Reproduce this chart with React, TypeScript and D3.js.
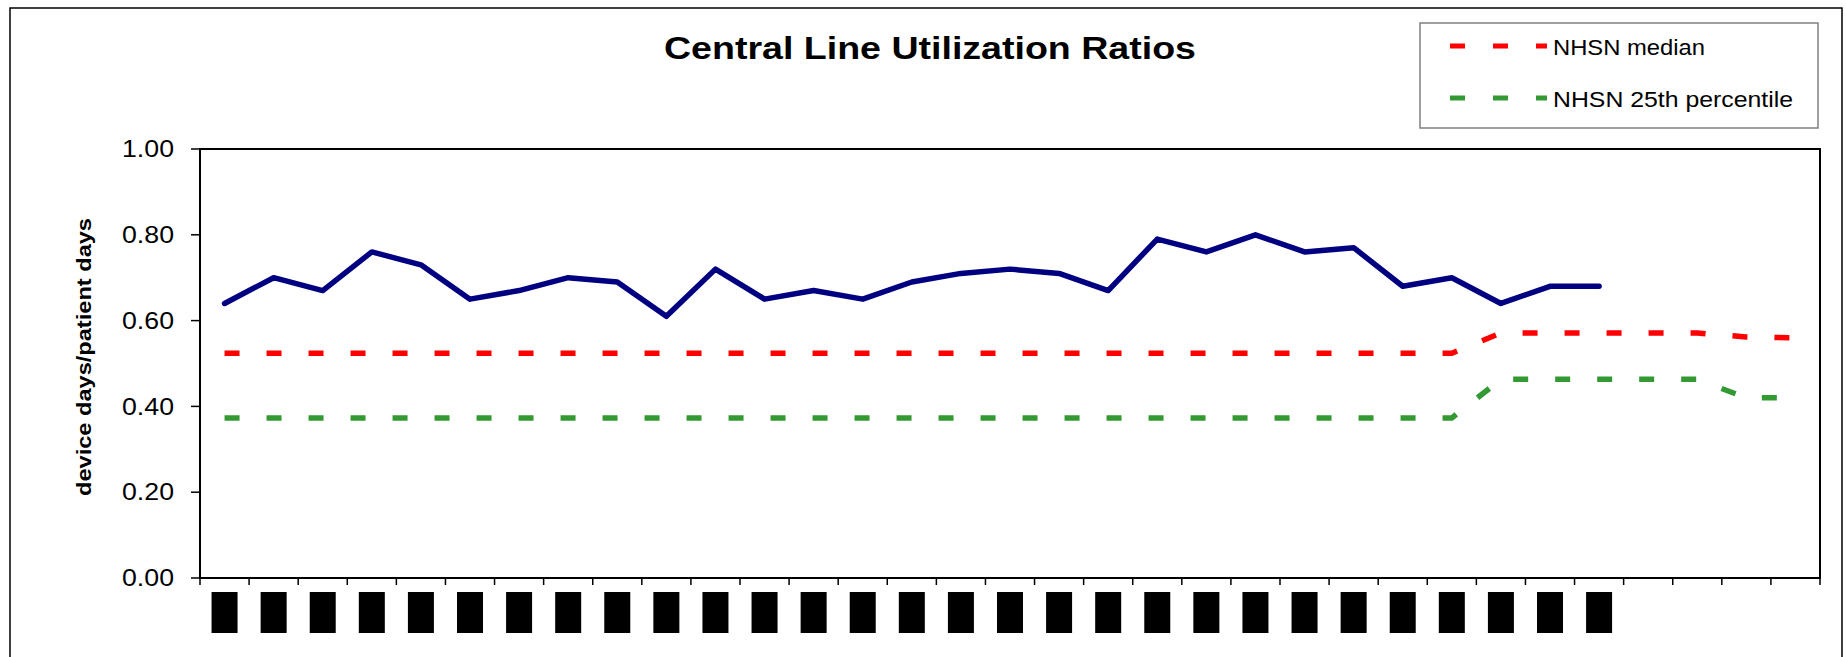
import * as d3 from 'd3';

// periods on the x axis (labels are blacked out in the source chart)
const periods = [
  'P01', 'P02', 'P03', 'P04', 'P05', 'P06', 'P07', 'P08', 'P09', 'P10', 'P11',
  'P12', 'P13', 'P14', 'P15', 'P16', 'P17', 'P18', 'P19', 'P20', 'P21', 'P22',
  'P23', 'P24', 'P25', 'P26', 'P27', 'P28', 'P29', 'P30', 'P31', 'P32', 'P33',
];

// device days / patient days, one value per reported period
const utilization = [
  0.64, 0.70, 0.67, 0.76, 0.73, 0.65, 0.67, 0.70, 0.69, 0.61, 0.72, 0.65, 0.67,
  0.65, 0.69, 0.71, 0.72, 0.71, 0.67, 0.79, 0.76, 0.80, 0.76, 0.77, 0.68, 0.70,
  0.64, 0.68, 0.68,
];

const nhsnMedian = [
  0.524, 0.524, 0.524, 0.524, 0.524, 0.524, 0.524, 0.524, 0.524, 0.524, 0.524,
  0.524, 0.524, 0.524, 0.524, 0.524, 0.524, 0.524, 0.524, 0.524, 0.524, 0.524,
  0.524, 0.524, 0.524, 0.524, 0.571, 0.571, 0.571, 0.571, 0.571, 0.562, 0.56,
];

const nhsn25th = [
  0.373, 0.373, 0.373, 0.373, 0.373, 0.373, 0.373, 0.373, 0.373, 0.373, 0.373,
  0.373, 0.373, 0.373, 0.373, 0.373, 0.373, 0.373, 0.373, 0.373, 0.373, 0.373,
  0.373, 0.373, 0.373, 0.373, 0.463, 0.463, 0.463, 0.463, 0.463, 0.42, 0.42,
];

const yTicks = [0, 0.2, 0.4, 0.6, 0.8, 1.0];

const legendItems = [
  { label: 'NHSN median', color: '#ff0000' },
  { label: 'NHSN 25th percentile', color: '#339933' },
];

const W = 1846;
const H = 657;
const FONT = 'Liberation Sans, Arial, sans-serif';

const App = () => {
  const plot = { left: 200, right: 1820, top: 149, bottom: 578 };

  const x = d3
    .scaleBand<string>()
    .domain(periods)
    .range([plot.left, plot.right])
    .padding(0);
  const y = d3.scaleLinear().domain([0, 1]).range([plot.bottom, plot.top]);
  const cx = (i: number) => (x(periods[i]) ?? 0) + x.bandwidth() / 2;

  const line = d3
    .line<number>()
    .x((_, i) => cx(i))
    .y((d) => y(d));

  const boundaries = d3.range(periods.length + 1).map((i) => plot.left + i * x.bandwidth());

  return (
    <svg
      width={W}
      height={H}
      style={{ position: 'absolute', left: 0, top: 0, background: '#fff' }}
    >
      {/* chart border */}
      <rect x={10} y={8} width={1832} height={680} fill="#fff" stroke="#000" strokeWidth={1.5} />

      {/* title */}
      <text
        x={930}
        y={59}
        textAnchor="middle"
        fontFamily={FONT}
        fontWeight="bold"
        fontSize={32}
        textLength={532}
        lengthAdjust="spacingAndGlyphs"
      >
        Central Line Utilization Ratios
      </text>

      {/* legend */}
      <rect x={1420} y={23} width={398} height={105} fill="#fff" stroke="#808080" strokeWidth={1.5} />
      {legendItems.map((d, i) => {
        const ly = 46 + i * 52;
        return (
          <g key={d.label}>
            <line
              x1={1450}
              x2={1547}
              y1={ly}
              y2={ly}
              stroke={d.color}
              strokeWidth={5}
              strokeDasharray="15 28"
            />
            <text
              x={1553}
              y={ly + 8.5}
              fontFamily={FONT}
              fontSize={22}
              textLength={i === 0 ? 152 : 240}
              lengthAdjust="spacingAndGlyphs"
            >
              {d.label}
            </text>
          </g>
        );
      })}

      {/* y axis label */}
      <text
        transform={`translate(84,357) rotate(-90)`}
        textAnchor="middle"
        dy="0.35em"
        fontFamily={FONT}
        fontWeight="bold"
        fontSize={21}
        textLength={278}
        lengthAdjust="spacingAndGlyphs"
      >
        device days/patient days
      </text>

      {/* plot frame */}
      <rect
        x={plot.left}
        y={plot.top}
        width={plot.right - plot.left}
        height={plot.bottom - plot.top}
        fill="none"
        stroke="#000"
        strokeWidth={2}
      />

      {/* y ticks */}
      {yTicks.map((t) => (
        <g key={t}>
          <line x1={plot.left - 9} x2={plot.left} y1={y(t)} y2={y(t)} stroke="#000" strokeWidth={1.5} />
          <text
            x={174}
            y={y(t)}
            dy="0.36em"
            textAnchor="end"
            fontFamily={FONT}
            fontSize={23}
            textLength={52}
            lengthAdjust="spacingAndGlyphs"
          >
            {d3.format('.2f')(t)}
          </text>
        </g>
      ))}

      {/* x ticks */}
      {boundaries.map((bx, i) => (
        <line key={i} x1={bx} x2={bx} y1={plot.bottom} y2={plot.bottom + 7} stroke="#000" strokeWidth={1.5} />
      ))}

      {/* redacted category labels */}
      {utilization.map((_, i) => (
        <rect key={periods[i]} x={cx(i) - 13} y={592} width={26} height={41} fill="#000" />
      ))}

      {/* reference lines */}
      <path
        d={line(nhsnMedian) ?? ''}
        fill="none"
        stroke="#ff0000"
        strokeWidth={5.5}
        strokeDasharray="15 27"
      />
      <path
        d={line(nhsn25th) ?? ''}
        fill="none"
        stroke="#339933"
        strokeWidth={5.5}
        strokeDasharray="15 27"
      />

      {/* utilization ratio */}
      <path
        d={line(utilization) ?? ''}
        fill="none"
        stroke="#000080"
        strokeWidth={5.5}
        strokeLinejoin="round"
        strokeLinecap="round"
      />
    </svg>
  );
};

export default App;
